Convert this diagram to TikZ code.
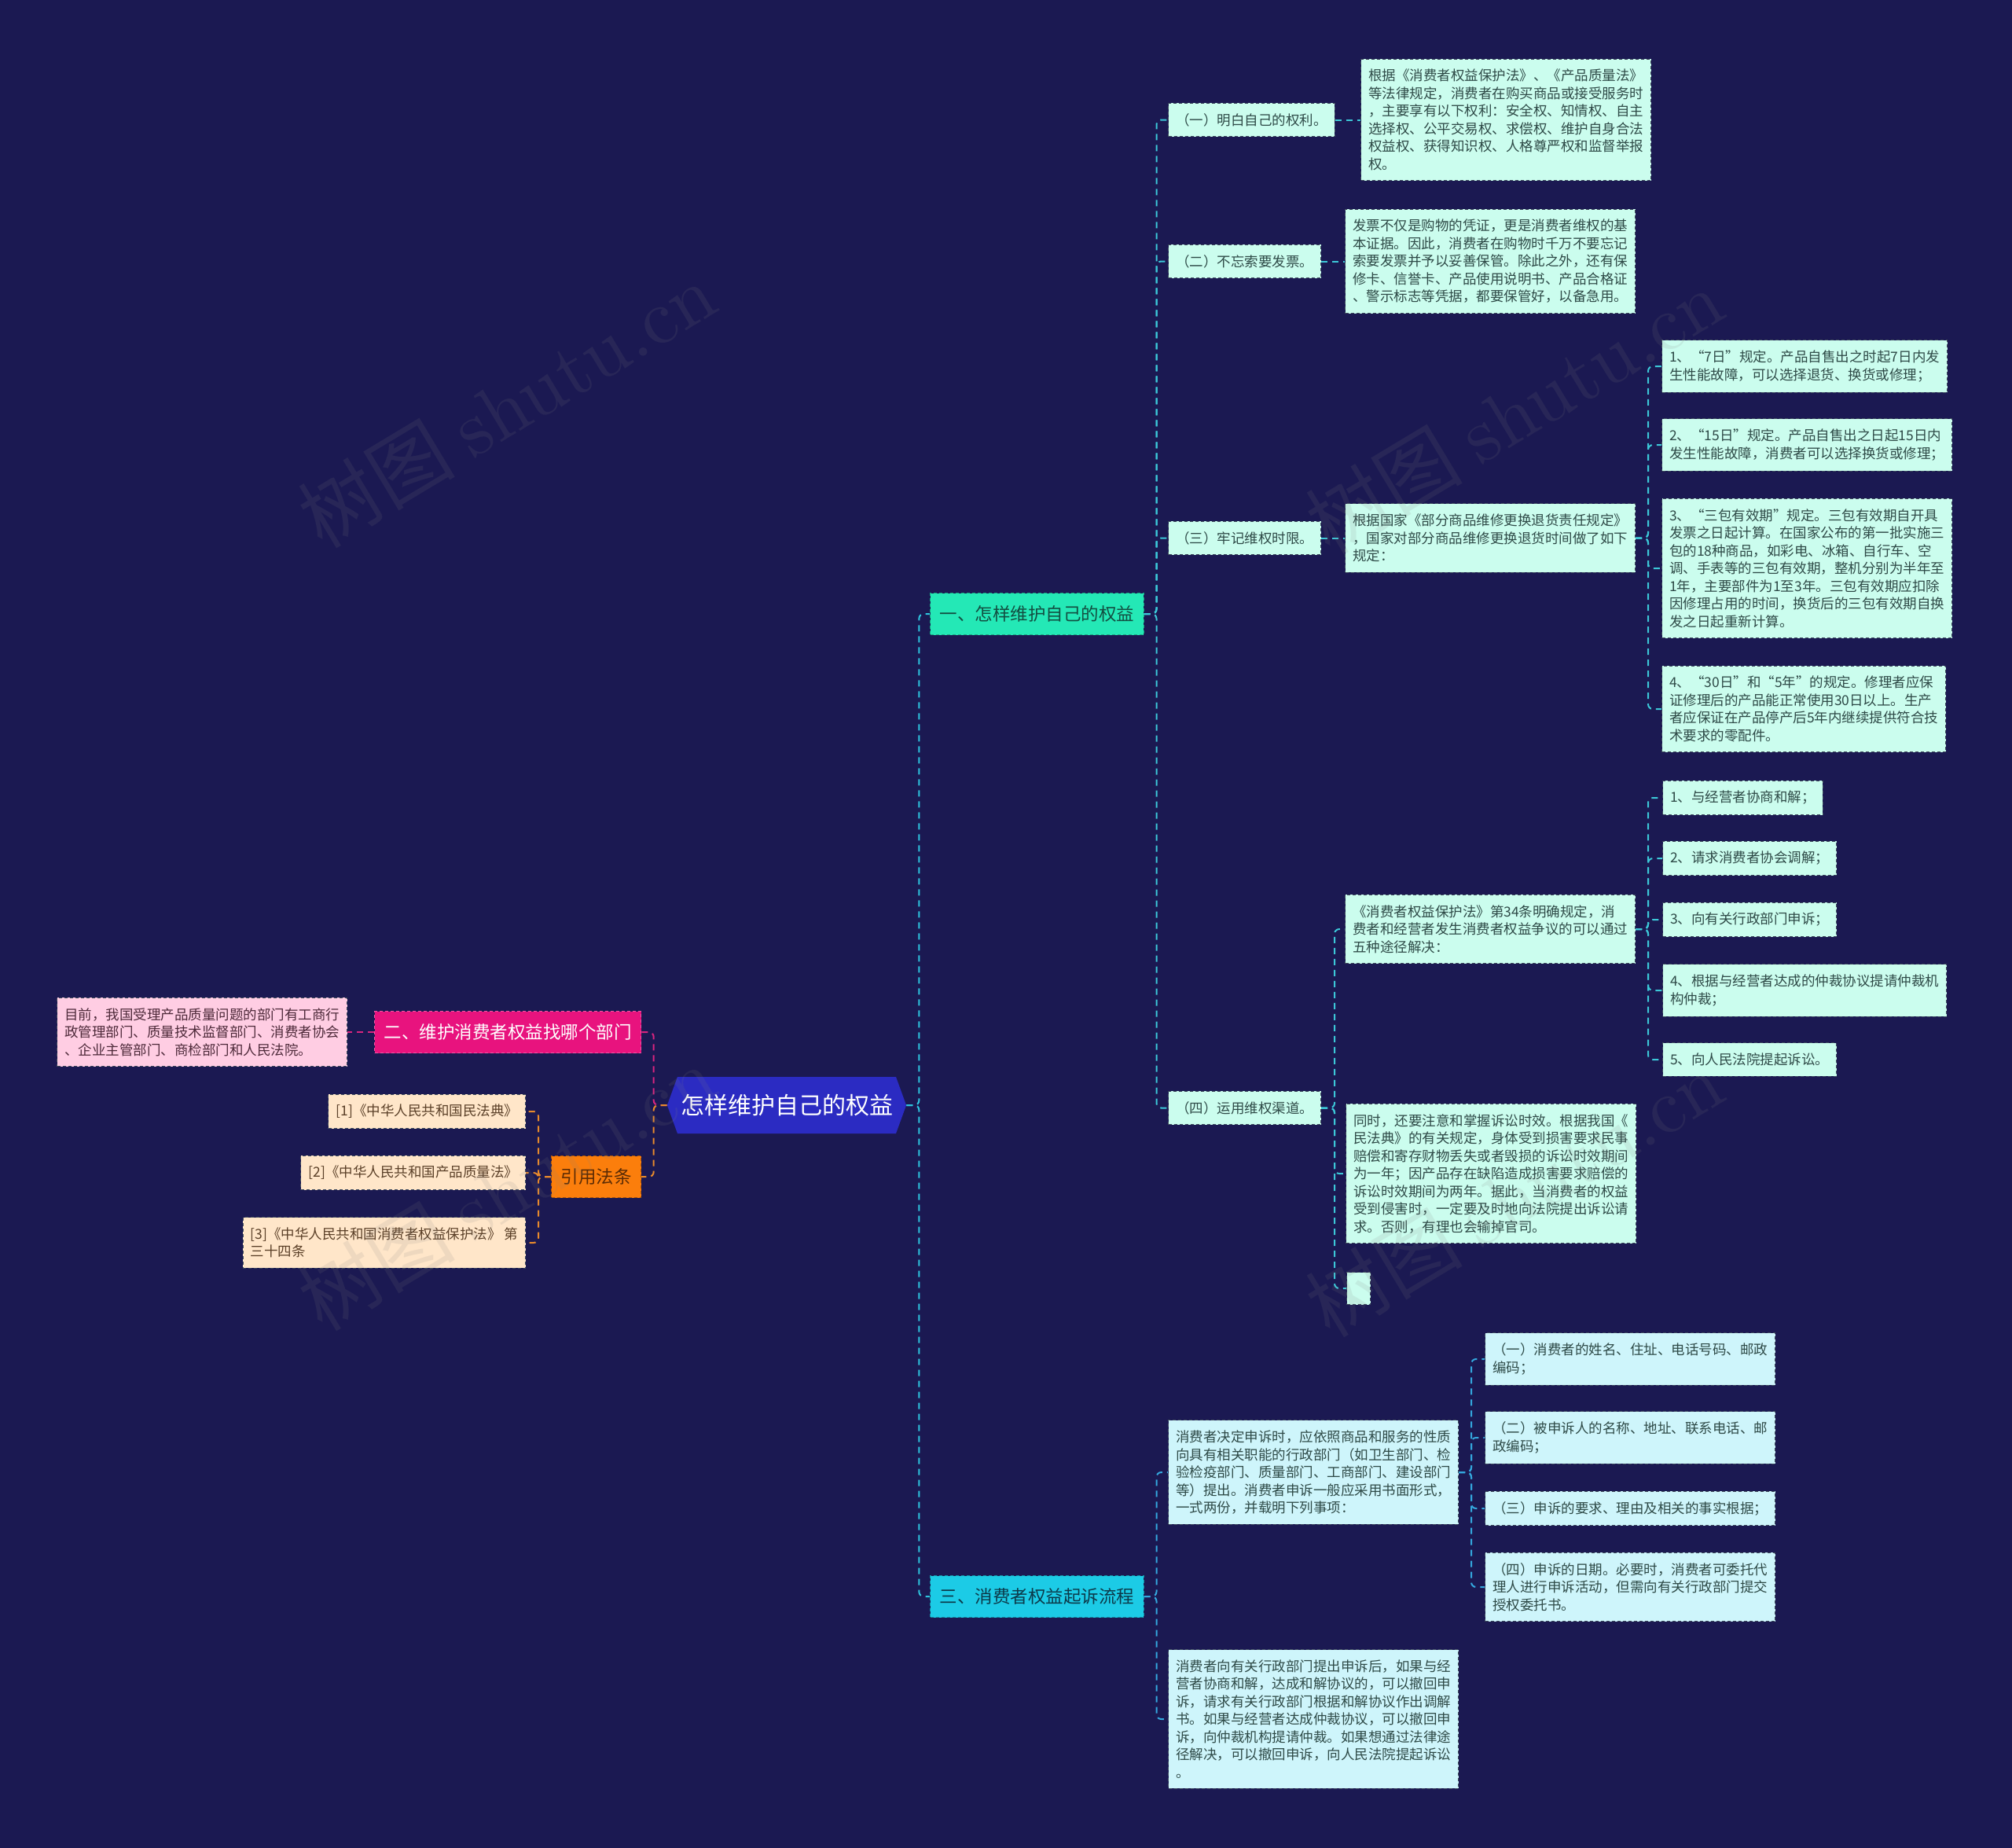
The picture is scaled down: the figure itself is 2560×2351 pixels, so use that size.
\documentclass[tikz,border=0pt]{standalone}
\usepackage{fontspec}
\setmainfont{Noto Sans CJK SC}
\newfontfamily\markserif{lmroman10-regular.otf}
\usetikzlibrary{shapes.symbols}

\definecolor{navy}{HTML}{1B1952}
\definecolor{hubfill}{HTML}{2B2BC2}
\definecolor{mintfill}{HTML}{24E8B6}
\definecolor{mintink}{HTML}{134E41}
\definecolor{skyfill}{HTML}{1CCBE6}
\definecolor{skyink}{HTML}{0C3A4A}
\definecolor{rosefill}{HTML}{E8137E}
\definecolor{citefill}{HTML}{FB7E0C}
\definecolor{citeink}{HTML}{5A2B05}
\definecolor{mintleaf}{HTML}{CBFDEE}
\definecolor{skyleaf}{HTML}{CEF5FB}
\definecolor{roseleaf}{HTML}{FFCDE3}
\definecolor{citeleaf}{HTML}{FFE6C9}
\definecolor{leafink}{HTML}{2E4A47}
\definecolor{roseink}{HTML}{4E2A3A}
\definecolor{refink}{HTML}{5B4028}
\definecolor{boxedge}{HTML}{3D4A5C}
\definecolor{hublink}{HTML}{2EC5DF}
\definecolor{mintlink}{HTML}{3CC8D8}
\definecolor{skylink}{HTML}{34A8DE}
\definecolor{roselink}{HTML}{D8257F}
\definecolor{citelink}{HTML}{E88A2C}

\newcommand\leafsize{\fontsize{17.5pt}{22.5pt}\selectfont}
\newcommand\topicsize{\fontsize{22.5pt}{28pt}\selectfont}
\newcommand\hubsize{\fontsize{30pt}{36pt}\selectfont}

\begin{document}
\begin{tikzpicture}[x=1pt, y=-1pt,
  box/.style={align=left, inner xsep=9.5pt, inner ysep=13pt, minimum height=41pt,
    line width=1pt, dash pattern=on 4pt off 3pt, font=\leafsize},
  mintbox/.style={box, fill=mintleaf, draw=boxedge, text=leafink},
  skybox/.style={box, fill=skyleaf, draw=boxedge, text=leafink},
  rosebox/.style={box, fill=roseleaf, draw=boxedge, text=roseink},
  refbox/.style={box, fill=citeleaf, draw=boxedge, text=refink},
  topic/.style={inner xsep=12pt, inner ysep=10pt, minimum height=53pt,
    line width=1pt, dash pattern=on 4pt off 3pt, font=\topicsize},
  link/.style={line width=2pt, dash pattern=on 8pt off 6pt, rounded corners=6pt},
  watermark/.style={font=\fontsize{100pt}{100pt}\selectfont, text=gray, opacity=0.13, rotate=31}
]
\useasboundingbox (0,0) rectangle (2560,2351);
\fill[navy] (0,0) rectangle (2560,2351);

% centre
\node[signal, signal to=west and east, signal pointer angle=140, fill=hubfill, text=white,
  font=\hubsize, minimum width=303pt, minimum height=72pt, inner xsep=4pt] (hub) at (1001,1406) {怎样维护自己的权益};

% main topics
\node[topic, anchor=west, fill=mintfill, draw=mintfill!70!black, text=mintink] (b1) at (1183,781) {一、怎样维护自己的权益};
\node[topic, anchor=west, fill=skyfill, draw=skyfill!70!black, text=skyink] (b3) at (1183,2031) {三、消费者权益起诉流程};
\node[topic, anchor=east, fill=rosefill, draw=rosefill!70!white, text=white] (b2) at (816,1313) {二、维护消费者权益找哪个部门};
\node[topic, anchor=east, fill=citefill, draw=citefill!70!black, text=citeink] (cite) at (816,1497) {引用法条};

% branch one
\node[mintbox, anchor=west] (s1) at (1486,152.5) {（一）明白自己的权利。};
\node[mintbox, anchor=west] (s2) at (1486,332.5) {（二）不忘索要发票。};
\node[mintbox, anchor=west] (s3) at (1486,684.5) {（三）牢记维权时限。};
\node[mintbox, anchor=west] (s4) at (1486,1409.5) {（四）运用维权渠道。};

\node[mintbox, anchor=west] (l1) at (1731,152.5) {根据《消费者权益保护法》、《产品质量法》\\等法律规定，消费者在购买商品或接受服务时\\，主要享有以下权利：安全权、知情权、自主\\选择权、公平交易权、求偿权、维护自身合法\\权益权、获得知识权、人格尊严权和监督举报\\权。};
\node[mintbox, anchor=west] (l2) at (1711,332.5) {发票不仅是购物的凭证，更是消费者维权的基\\本证据。因此，消费者在购物时千万不要忘记\\索要发票并予以妥善保管。除此之外，还有保\\修卡、信誉卡、产品使用说明书、产品合格证\\、警示标志等凭据，都要保管好，以备急用。};
\node[mintbox, anchor=west] (l3) at (1711,684.5) {根据国家《部分商品维修更换退货责任规定》\\，国家对部分商品维修更换退货时间做了如下\\规定：};

\node[mintbox, anchor=west] (t1) at (2114,466) {1、“7日”规定。产品自售出之时起7日内发\\生性能故障，可以选择退货、换货或修理；};
\node[mintbox, anchor=west] (t2) at (2114,566) {2、“15日”规定。产品自售出之日起15日内\\发生性能故障，消费者可以选择换货或修理；};
\node[mintbox, anchor=west] (t3) at (2114,723) {3、“三包有效期”规定。三包有效期自开具\\发票之日起计算。在国家公布的第一批实施三\\包的18种商品，如彩电、冰箱、自行车、空\\调、手表等的三包有效期，整机分别为半年至\\1年，主要部件为1至3年。三包有效期应扣除\\因修理占用的时间，换货后的三包有效期自换\\发之日起重新计算。};
\node[mintbox, anchor=west] (t4) at (2114,902) {4、“30日”和“5年”的规定。修理者应保\\证修理后的产品能正常使用30日以上。生产\\者应保证在产品停产后5年内继续提供符合技\\术要求的零配件。};

\node[mintbox, anchor=west] (u1) at (1711,1182) {《消费者权益保护法》第34条明确规定，消\\费者和经营者发生消费者权益争议的可以通过\\五种途径解决：};
\node[mintbox, anchor=west] (u2) at (1712,1493) {同时，还要注意和掌握诉讼时效。根据我国《\\民法典》的有关规定，身体受到损害要求民事\\赔偿和寄存财物丢失或者毁损的诉讼时效期间\\为一年；因产品存在缺陷造成损害要求赔偿的\\诉讼时效期间为两年。据此，当消费者的权益\\受到侵害时，一定要及时地向法院提出诉讼请\\求。否则，有理也会输掉官司。};
\node[mintbox, anchor=west, minimum width=30pt, inner xsep=0pt] (u3) at (1713,1639) {};

\node[mintbox, anchor=west] (w1) at (2115,1015) {1、与经营者协商和解；};
\node[mintbox, anchor=west] (w2) at (2115,1092) {2、请求消费者协会调解；};
\node[mintbox, anchor=west] (w3) at (2115,1170) {3、向有关行政部门申诉；};
\node[mintbox, anchor=west] (w4) at (2115,1260) {4、根据与经营者达成的仲裁协议提请仲裁机\\构仲裁；};
\node[mintbox, anchor=west] (w5) at (2115,1348) {5、向人民法院提起诉讼。};

% branch three
\node[skybox, anchor=west] (m1) at (1486,1873) {消费者决定申诉时，应依照商品和服务的性质\\向具有相关职能的行政部门（如卫生部门、检\\验检疫部门、质量部门、工商部门、建设部门\\等）提出。消费者申诉一般应采用书面形式，\\一式两份，并载明下列事项：};
\node[skybox, anchor=west] (m2) at (1486,2187) {消费者向有关行政部门提出申诉后，如果与经\\营者协商和解，达成和解协议的，可以撤回申\\诉，请求有关行政部门根据和解协议作出调解\\书。如果与经营者达成仲裁协议，可以撤回申\\诉，向仲裁机构提请仲裁。如果想通过法律途\\径解决，可以撤回申诉，向人民法院提起诉讼\\。};

\node[skybox, anchor=west] (n1) at (1889,1729) {（一）消费者的姓名、住址、电话号码、邮政\\编码；};
\node[skybox, anchor=west] (n2) at (1889,1829) {（二）被申诉人的名称、地址、联系电话、邮\\政编码；};
\node[skybox, anchor=west] (n3) at (1889,1919) {（三）申诉的要求、理由及相关的事实根据；};
\node[skybox, anchor=west] (n4) at (1889,2019) {（四）申诉的日期。必要时，消费者可委托代\\理人进行申诉活动，但需向有关行政部门提交\\授权委托书。};

% left side
\node[rosebox, anchor=east] (p1) at (442,1313) {目前，我国受理产品质量问题的部门有工商行\\政管理部门、质量技术监督部门、消费者协会\\、企业主管部门、商检部门和人民法院。};
\node[refbox, anchor=east] (r1) at (669,1414) {[1]《中华人民共和国民法典》};
\node[refbox, anchor=east] (r2) at (669,1492) {[2]《中华人民共和国产品质量法》};
\node[refbox, anchor=east] (r3) at (669,1581) {[3]《中华人民共和国消费者权益保护法》 第\\三十四条};

% connectors
\foreach \b in {b1,b3}
  \draw[link, hublink] (hub.east) -- ++(16,0) |- (\b.west);
\draw[link, roselink] (hub.west) -- ++(-17,0) |- (b2.east);
\draw[link, citelink] (hub.west) -- ++(-17,0) |- (cite.east);
\draw[link, roselink] (b2.west) -- (p1.east);
\foreach \r in {r1,r2,r3}
  \draw[link, citelink] (cite.west) -- ++(-16,0) |- (\r.east);

\foreach \s in {s1,s2,s3,s4}
  \draw[link, mintlink] (b1.east) -- ++(16,0) |- (\s.west);
\draw[link, mintlink] (s1.east) -- (l1.west);
\draw[link, mintlink] (s2.east) -- (l2.west);
\draw[link, mintlink] (s3.east) -- (l3.west);
\foreach \t in {t1,t2,t3,t4}
  \draw[link, mintlink] (l3.east) -- ++(16,0) |- (\t.west);
\foreach \u in {u1,u2,u3}
  \draw[link, mintlink] (s4.east) -- ++(17,0) |- (\u.west);
\foreach \w in {w1,w2,w3,w4,w5}
  \draw[link, mintlink] (u1.east) -- ++(16,0) |- (\w.west);

\foreach \m in {m1,m2}
  \draw[link, skylink] (b3.east) -- ++(16,0) |- (\m.west);
\foreach \n in {n1,n2,n3,n4}
  \draw[link, skylink] (m1.east) -- ++(16,0) |- (\n.west);

% watermarks
\node[watermark] (wm1) at (645,514) {树图 {\markserif shutu.cn}};
\node[watermark] (wm2) at (1927,522) {树图 {\markserif shutu.cn}};
\node[watermark] (wm3) at (645,1510) {树图 {\markserif shutu.cn}};
\node[watermark] (wm4) at (1927,1518) {树图 {\markserif shutu.cn}};
\end{tikzpicture}
\end{document}
